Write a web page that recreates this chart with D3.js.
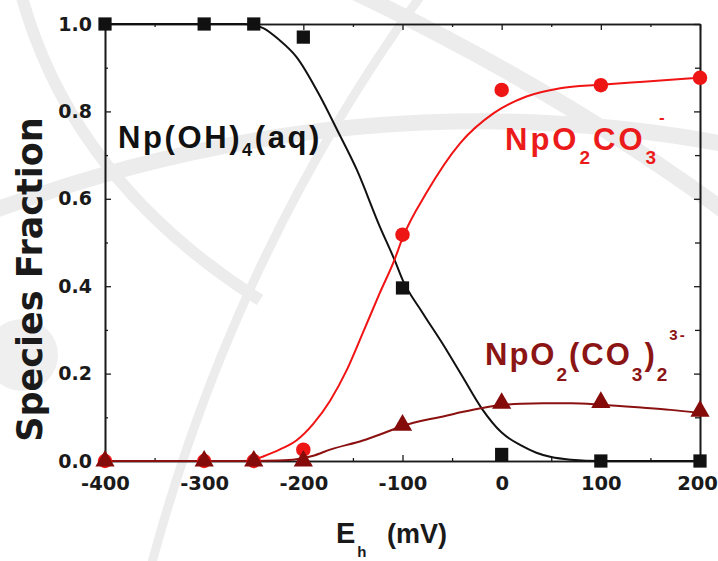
<!DOCTYPE html>
<html><head><meta charset="utf-8">
<script src="https://cdn.jsdelivr.net/npm/d3@7"></script>
<style>body{margin:0;background:#fff}</style>
</head><body><svg id="chart" width="718" height="561"></svg>
<script>
// ---- data ----
const xTickValues = [-400, -300, -200, -100, 0, 100, 200];
const xMinorTicks = [-350, -250, -150, -50, 50, 150];
const yTickValues = [0, 0.2, 0.4, 0.6, 0.8, 1.0];
const yMinorTicks = [0.1, 0.3, 0.5, 0.7, 0.9];

const measuredEh = [-400, -300, -250, -200, -100, 0, 100, 200];
const hydroxideMeasured = [1.0, 1.0, 1.0, 0.97, 0.396, 0.015, 0, 0];
const monoCarbMeasured = [0, 0, 0, 0.026, 0.518, 0.849, 0.86, 0.877];
const diCarbMeasured = [0, 0, 0, 0, 0.082, 0.132, 0.134, 0.114];

const hydroxideCurveEh = [-400, -300, -260, -250, -240, -225, -207, -183, -166, -146, -123, -108, -100, -80, -60, -40, -20, 0, 20, 35, 50, 70, 100, 150, 200];
const hydroxideCurve = [1, 1, 1, 0.998, 0.99, 0.965, 0.925, 0.834, 0.758, 0.666, 0.537, 0.46, 0.415, 0.34, 0.27, 0.195, 0.12, 0.065, 0.035, 0.019, 0.009, 0.003, 0, 0, 0];

const monoCarbCurveEh = [-400, -300, -260, -250, -240, -224, -207, -190, -173, -156, -140, -123, -108, -100, -76, -42, -8, 25, 59, 100, 143, 200];
const monoCarbCurve = [0, 0, 0, 0.003, 0.011, 0.026, 0.047, 0.085, 0.138, 0.209, 0.293, 0.384, 0.461, 0.51, 0.613, 0.727, 0.796, 0.834, 0.853, 0.861, 0.868, 0.877];

const diCarbCurveEh = [-400, -300, -250, -225, -207, -190, -173, -140, -120, -100, -72, -59, -40, -18, 0, 20, 42, 70, 100, 143, 170, 200];
const diCarbCurve = [0, 0, 0, 0.001, 0.004, 0.012, 0.026, 0.047, 0.063, 0.08, 0.096, 0.102, 0.112, 0.122, 0.128, 0.131, 0.132, 0.132, 0.129, 0.122, 0.117, 0.11];

// ---- layout ----
const W = 718, H = 561;
const margin = {left: 105, right: 18, top: 24, bottom: 100};
const svg = d3.select("#chart");
const x = d3.scaleLinear().domain([-400, 200]).range([margin.left, W - margin.right]);
const y = d3.scaleLinear().domain([0, 1]).range([H - margin.bottom, margin.top]);

// ---- faint background logo arcs ----
const wm = svg.append("g").attr("fill", "none").attr("stroke", "#ececec");
wm.append("path").attr("d", "M -10,212 Q 360,75 730,145").attr("stroke-width", 16);
wm.append("path").attr("d", "M 350,-10 Q 560,90 730,215").attr("stroke-width", 16);
wm.append("path").attr("d", "M 425,-10 Q 235,250 150,570").attr("stroke-width", 9);
wm.append("path").attr("d", "M 20,-10 Q 70,180 260,300").attr("stroke-width", 12);
svg.append("circle").attr("cx", 22).attr("cy", 355).attr("r", 36).attr("fill", "#efefef");

// ---- axes ----
const tickFont = "DejaVu Sans, sans-serif";
const fmtX = d => String(d);
function styleAxis(g) {
  g.selectAll("path.domain").attr("stroke", "#1a1a1a").attr("stroke-width", 1.6);
  g.selectAll(".tick line").attr("stroke", "#1a1a1a").attr("stroke-width", 1.3);
  g.selectAll(".tick text").attr("fill", "#1a1a1a").attr("font-family", tickFont).attr("font-weight", "bold");
}
// bottom
svg.append("g").attr("transform", `translate(0,${y(0)})`)
  .call(d3.axisBottom(x).tickValues(xTickValues).tickSizeInner(-6).tickSizeOuter(0).tickPadding(15).tickFormat(fmtX))
  .call(styleAxis)
  .call(g => g.selectAll(".tick text").attr("font-size", 19.5)
    .attr("dx", d => d === xTickValues[xTickValues.length - 1] ? -3 : 0));
svg.append("g").attr("transform", `translate(0,${y(0)})`)
  .call(d3.axisBottom(x).tickValues(xMinorTicks).tickSizeInner(-3).tickSizeOuter(0).tickFormat(""))
  .call(styleAxis);
// top
svg.append("g").attr("transform", `translate(0,${y(1)})`)
  .call(d3.axisTop(x).tickValues(xTickValues).tickSizeInner(-6).tickSizeOuter(0).tickFormat(""))
  .call(styleAxis);
svg.append("g").attr("transform", `translate(0,${y(1)})`)
  .call(d3.axisTop(x).tickValues(xMinorTicks).tickSizeInner(-3).tickSizeOuter(0).tickFormat(""))
  .call(styleAxis);
// left
svg.append("g").attr("transform", `translate(${x(-400)},0)`)
  .call(d3.axisLeft(y).tickValues(yTickValues).tickSizeInner(-6).tickSizeOuter(0).tickPadding(13).tickFormat(d3.format(".1f")))
  .call(styleAxis).call(g => g.selectAll(".tick text").attr("font-size", 19));
svg.append("g").attr("transform", `translate(${x(-400)},0)`)
  .call(d3.axisLeft(y).tickValues(yMinorTicks).tickSizeInner(-3).tickSizeOuter(0).tickFormat(""))
  .call(styleAxis);
// right
svg.append("g").attr("transform", `translate(${x(200)},0)`)
  .call(d3.axisRight(y).tickValues(yTickValues).tickSizeInner(-6).tickSizeOuter(0).tickFormat(""))
  .call(styleAxis);
svg.append("g").attr("transform", `translate(${x(200)},0)`)
  .call(d3.axisRight(y).tickValues(yMinorTicks).tickSizeInner(-5).tickSizeOuter(0).tickFormat(""))
  .call(styleAxis);

// ---- axis titles ----
svg.append("text")
  .attr("transform", `translate(42,${(y(0) + y(1)) / 2 + 37}) rotate(-90)`)
  .attr("text-anchor", "middle").attr("font-family", tickFont).attr("font-weight", "bold")
  .attr("font-size", 35).attr("fill", "#1a1a1a").text("Species Fraction");

const xt = svg.append("text").attr("x", 336).attr("y", 543)
  .attr("font-family", "Liberation Sans, Arial, sans-serif").attr("font-weight", "bold")
  .attr("font-size", 29).attr("fill", "#1a1a1a");
xt.append("tspan").text("E");
xt.append("tspan").attr("font-size", 15).attr("dy", 14).attr("dx", 2).text("h");
xt.append("tspan").attr("x", 387).attr("dy", -14).attr("font-size", 27).text("(mV)");

// ---- curves ----
const line = d3.line().x(d => x(d[0])).y(d => y(d[1])).curve(d3.curveMonotoneX);
const curves = [
  {xs: hydroxideCurveEh, ys: hydroxideCurve, color: "#111111"},
  {xs: monoCarbCurveEh, ys: monoCarbCurve, color: "#f01414"},
  {xs: diCarbCurveEh, ys: diCarbCurve, color: "#8b1010"}
];
curves.forEach(c => {
  svg.append("path").datum(c.xs.map((v, i) => [v, c.ys[i]]))
    .attr("d", line).attr("fill", "none").attr("stroke", c.color).attr("stroke-width", 2);
});

// ---- markers ----
const markerSets = [
  {vals: hydroxideMeasured, type: d3.symbolSquare, size: 175, color: "#111111"},
  {vals: monoCarbMeasured, type: d3.symbolCircle, size: 165, color: "#ee1515"},
  {vals: diCarbMeasured, type: d3.symbolTriangle, size: 160, color: "#850a0a"}
];
markerSets.forEach(m => {
  svg.append("g").selectAll("path").data(measuredEh.map((v, i) => [v, m.vals[i]])).join("path")
    .attr("transform", d => `translate(${x(d[0])},${y(d[1])})`)
    .attr("d", d3.symbol(m.type, m.size)).attr("fill", m.color);
});

// ---- species labels ----
const annFont = "Liberation Sans, Arial, sans-serif";
function label(xp, yp, color, spacing, parts) {
  const t = svg.append("text").attr("x", xp).attr("y", yp).attr("font-family", annFont)
    .attr("font-weight", "bold").attr("font-size", 31).attr("fill", color).attr("letter-spacing", spacing);
  parts.forEach(p => {
    const s = t.append("tspan").text(p.t);
    if (p.fs) s.attr("font-size", p.fs);
    if (p.dy) s.attr("dy", p.dy);
  });
}
label(118, 148, "#111111", 2.6, [
  {t: "Np(OH)"}, {t: "4", fs: 18, dy: 8}, {t: "(aq)", dy: -8}
]);
label(505, 150, "#ec1b1b", 3, [
  {t: "NpO"}, {t: "2", fs: 19, dy: 14}, {t: "CO", dy: -14}, {t: "3", fs: 19, dy: 14}, {t: "-", fs: 17, dy: -41}
]);
label(485, 365, "#8b1515", 2, [
  {t: "NpO"}, {t: "2", fs: 19, dy: 16}, {t: "(CO", dy: -16}, {t: "3", fs: 19, dy: 16}, {t: ")", dy: -16},
  {t: "2", fs: 19, dy: 16}, {t: "3-", fs: 15, dy: -41}
]);
</script></body></html>
